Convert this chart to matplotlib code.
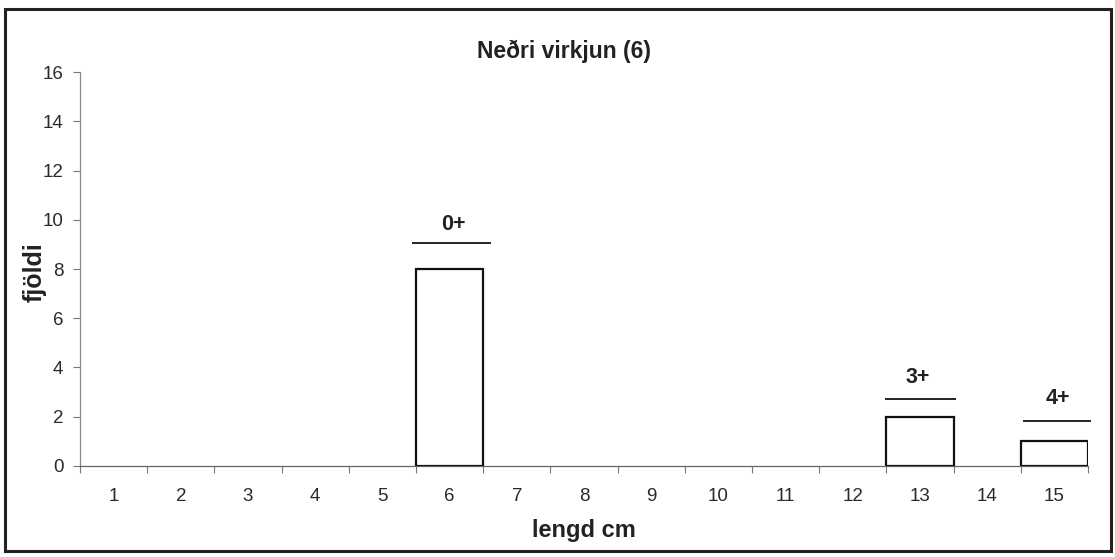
import matplotlib
matplotlib.use("Agg")
import matplotlib.pyplot as plt
from matplotlib.patches import Rectangle

plt.rcParams['font.family'] = ['Liberation Sans', 'DejaVu Sans']

categories = list(range(1, 16))
counts = [0, 0, 0, 0, 0, 8, 0, 0, 0, 0, 0, 0, 2, 0, 1]
age_labels = ["0+", "3+", "4+"]
age_line_x = [(5.45, 6.6), (12.5, 13.52), (14.55, 15.53)]
age_line_y = [9.06, 2.72, 1.83]
age_text_x = [6.05, 12.97, 15.05]
age_text_y = [9.8, 3.6, 2.75]

fig = plt.figure(figsize=(11.15, 5.57), dpi=100)
fig.patches.append(Rectangle((0.0045, 0.0108), 0.992, 0.973, transform=fig.transFigure,
                             fill=False, edgecolor='#222222', linewidth=2.2))
ax = fig.add_axes([0.0717, 0.1634, 0.9041, 0.7073])

nz = [(c, v) for c, v in zip(categories, counts) if v > 0]
ax.bar([c for c, v in nz], [v for c, v in nz], width=1.0, color='white',
       edgecolor='#111111', linewidth=1.6, zorder=3)

for lab, (x0, x1), ly, tx, ty in zip(age_labels, age_line_x, age_line_y, age_text_x, age_text_y):
    ax.plot([x0, x1], [ly, ly], color='#222222', linewidth=1.4, clip_on=False)
    ax.text(tx, ty, lab, ha='center', va='center', fontsize=15.5, fontweight='bold', color='#222222')

ax.set_xlim(0.5, 15.5)
ax.set_ylim(0, 16)
ax.set_yticks(range(0, 17, 2))
ax.set_xticks([c - 0.5 for c in categories] + [15.5])
ax.set_xticklabels([])
ax.set_xticks(categories, minor=True)
ax.set_xticklabels([str(c) for c in categories], minor=True)
ax.tick_params(axis='x', which='minor', length=0, pad=16, labelsize=13.5, labelcolor='#2a2a2a')
ax.tick_params(axis='x', which='major', length=5, color='#777777', direction='out')
ax.tick_params(axis='y', length=5, color='#777777', labelsize=13.5, labelcolor='#2a2a2a', pad=7)

for s in ['top', 'right']:
    ax.spines[s].set_visible(False)
ax.spines['left'].set_color('#888888')
ax.spines['bottom'].set_color('#666666')
ax.spines['left'].set_linewidth(0.9)
ax.spines['bottom'].set_linewidth(0.9)

fig.text(0.506, 0.896, "Neðri virkjun (6)", ha='center', va='baseline',
         fontsize=16.5, fontweight='bold', color='#222222')
fig.text(0.524, 0.036, "lengd cm", ha='center', va='baseline',
         fontsize=17, fontweight='bold', color='#222222')
fig.text(35 / 1115, 0.512, "fjöldi", ha='center', va='center', rotation=90,
         fontsize=18, fontweight='bold', color='#222222')

fig.savefig("out.png", dpi=100)
